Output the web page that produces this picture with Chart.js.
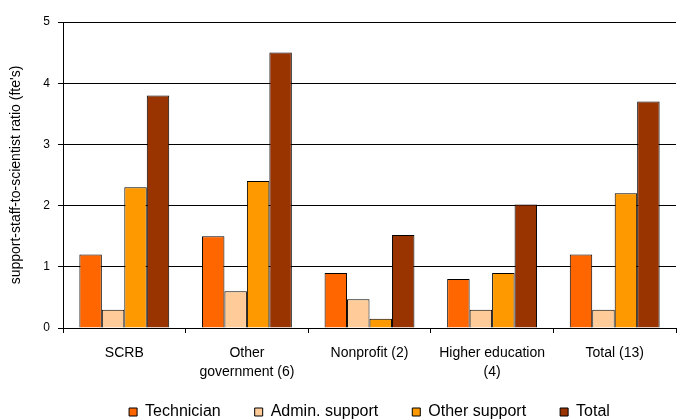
<!DOCTYPE html>
<html>
<head>
<meta charset="utf-8">
<script src="https://cdn.jsdelivr.net/npm/chart.js@4/dist/chart.umd.min.js"></script>
<style>
    html, body { margin: 0; padding: 0; background: #fff; }
    #wrap { width: 677px; height: 419px; }
</style>
</head>
<body>
<div id="wrap"><canvas id="ratioChart"></canvas></div>
<script>
// Support staff per scientist, by sector (fte's)
const sectors = ['SCRB', ['Other', 'government (6)'], 'Nonprofit (2)', ['Higher education', '(4)'], 'Total (13)'];
const technician = [1.2, 1.5, 0.9, 0.8, 1.2];
const adminSupport = [0.3, 0.6, 0.47, 0.3, 0.3];
const otherSupport = [2.3, 2.4, 0.15, 0.9, 2.2];
const totalSupport = [3.8, 4.5, 1.52, 2.02, 3.7];
const yMin = 0;
const yMax = 5;
const yStep = 1;

Chart.defaults.font.family = "'Liberation Sans', Arial, sans-serif";
Chart.defaults.color = '#000';

// keep the legend centred under the plot area and close to the bottom edge
const legendPlacer = {
    id: 'legendPlacer',
    afterLayout(chart) {
        const lg = chart.legend;
        const area = chart.chartArea;
        const dx = (area.left + area.right) / 2 - (lg.left + lg.right) / 2;
        lg.left += dx;
        lg.right += dx;
        const pad = lg.options.labels.padding;
        const dy = 412 - (lg.top + pad + 8);
        lg.top += dy;
        lg.bottom += dy;
    }
};

document.addEventListener("DOMContentLoaded", function() {
    const ctx = document.getElementById('ratioChart').getContext('2d');

    const bar = (label, data, color) => ({
        label: label,
        data: data,
        backgroundColor: color,
        borderColor: '#000',
        borderWidth: 1,
        categoryPercentage: 0.733,
        barPercentage: 1.0
    });

    new Chart(ctx, {
        type: 'bar',
        data: {
            labels: sectors,
            datasets: [
                bar('Technician', technician, '#FF6600'),
                bar('Admin. support', adminSupport, '#FFCC99'),
                bar('Other support', otherSupport, '#FF9900'),
                bar('Total', totalSupport, '#993300')
            ]
        },
        options: {
            responsive: true,
            maintainAspectRatio: false,
            animation: false,
            // legend is tall because of its item spacing; pull it below the edge, the plugin moves it back up
            layout: { padding: { top: 22, right: 1, left: 0, bottom: -31 } },
            plugins: {
                legend: {
                    position: 'bottom',
                    labels: {
                        boxWidth: 8,
                        boxHeight: 8,
                        padding: 34,
                        color: '#000',
                        font: { size: 16 }
                    }
                },
                tooltip: { enabled: false }
            },
            scales: {
                x: {
                    offset: true,
                    grid: { offset: true, drawOnChartArea: false, tickLength: 5, color: '#000' },
                    border: { color: '#000', width: 1 },
                    ticks: {
                        color: '#000',
                        font: { size: 14, lineHeight: 1.4 },
                        padding: 10,
                        maxRotation: 0,
                        autoSkip: false
                    },
                    afterFit(scale) { scale.height = 62; }
                },
                y: {
                    min: yMin,
                    max: yMax,
                    ticks: { stepSize: yStep, color: '#000', font: { size: 12 }, padding: 8 },
                    grid: { color: '#000', lineWidth: 1, tickLength: 5 },
                    border: { color: '#000', width: 1 },
                    title: {
                        display: true,
                        text: "support-staff-to-scientist ratio (fte's)",
                        color: '#000',
                        font: { size: 14 },
                        padding: { top: 8, bottom: 0 }
                    },
                    afterFit(scale) { scale.width = 63; }
                }
            }
        },
        plugins: [legendPlacer]
    });
});
</script>
</body>
</html>
